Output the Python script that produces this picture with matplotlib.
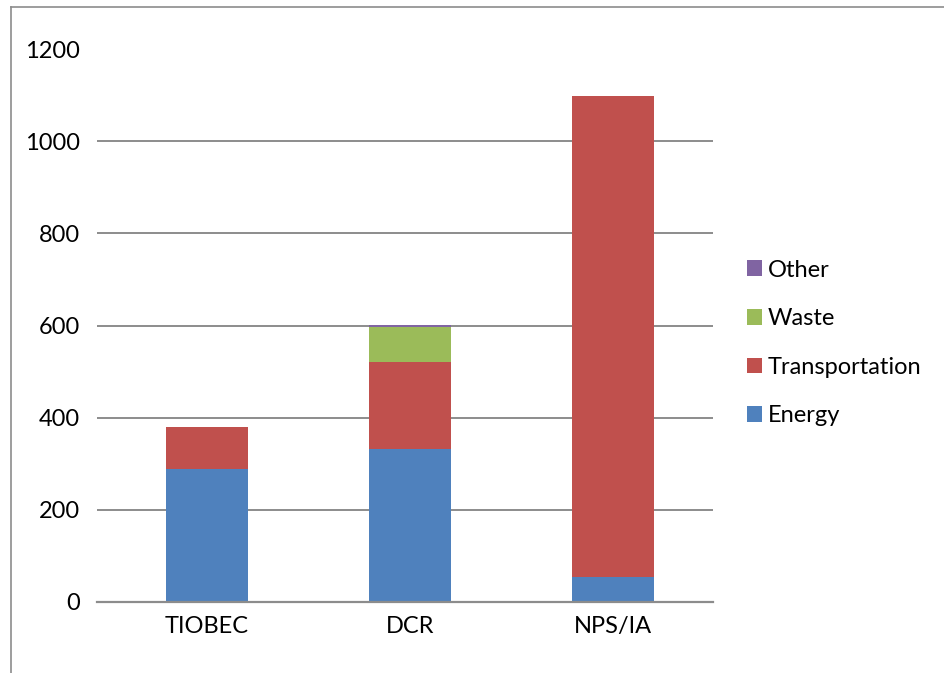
import matplotlib
matplotlib.use('Agg')
import matplotlib.pyplot as plt
from matplotlib.lines import Line2D
import numpy as np

# Emissions by sector for each site
sites = ['TIOBEC', 'DCR', 'NPS/IA']
energy = [289, 331, 54]
transportation = [91, 189, 1044]
waste = [0, 76, 0]
other = [0, 6, 0]

series = [
    ('Energy', energy, '#4F81BD'),
    ('Transportation', transportation, '#C0504D'),
    ('Waste', waste, '#9BBB59'),
    ('Other', other, '#8064A2'),
]

plt.rcParams['font.family'] = ['Lato', 'DejaVu Sans']

W, H = 944, 673
fig = plt.figure(figsize=(W / 100, H / 100), dpi=100)
ax = fig.add_axes([97 / W, 1 - 602 / H, (713 - 97) / W, (602 - 49) / H])

x = np.arange(len(sites))
bottom = np.zeros(len(sites))
handles = []
for name, vals, color in series:
    vals = np.array(vals, dtype=float)
    b = ax.bar(x, vals, width=0.404, bottom=bottom, color=color, label=name, zorder=2)
    bottom += vals
    handles.append(b)

ax.set_xlim(-0.542, len(sites) - 1 + 0.493)
ax.set_ylim(0, 1200)
ax.set_yticks(range(0, 1201, 200))
ax.set_xticks(x)
ax.set_xticklabels(sites)
ax.tick_params(axis='both', length=0, labelsize=17, colors='black')
ax.tick_params(axis='y', pad=12)
ax.tick_params(axis='x', pad=10)

ax.yaxis.grid(True, color='#8c8c8c', linewidth=1.4, zorder=0)
ax.set_axisbelow(True)
ax.yaxis.get_gridlines()[-1].set_visible(False)

for side in ['top', 'right', 'left']:
    ax.spines[side].set_visible(False)
ax.spines['bottom'].set_color('#8c8c8c')
ax.spines['bottom'].set_linewidth(1.6)
ax.spines['bottom'].set_zorder(3)

# Legend with the stack order reversed (top series first)
leg = fig.legend(handles[::-1], [s[0] for s in series][::-1],
                 loc='center left', bbox_to_anchor=(747 / W, 1 - 343 / H),
                 frameon=False, fontsize=17, handlelength=0.65, handleheight=0.65,
                 handletextpad=0.22, labelspacing=1.17, borderpad=0, borderaxespad=0)

# Thin frame along top and left edges
fig.add_artist(Line2D([11 / W, 1], [1 - 7 / H, 1 - 7 / H], color='#8c8c8c', linewidth=1.2))
fig.add_artist(Line2D([11 / W, 11 / W], [0, 1 - 7 / H], color='#8c8c8c', linewidth=1.2))

fig.savefig('out.png', dpi=100, facecolor='white')
